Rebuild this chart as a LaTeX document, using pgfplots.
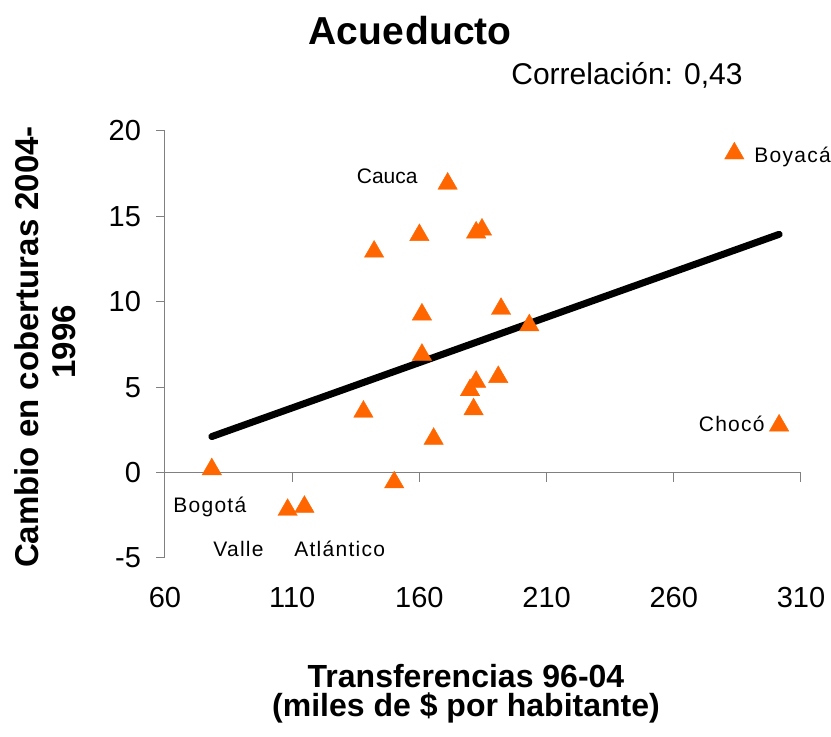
\documentclass[border=0pt]{standalone}
\usepackage{pgfplots}
\pgfplotsset{compat=1.18}
\usepackage{fontspec}
\setmainfont{Liberation Sans}
\newfontfamily\lsfont[LetterSpace=6]{Liberation Sans}
\definecolor{mkorange}{HTML}{FF6600}
\definecolor{axgray}{HTML}{808080}
\begin{document}
\begin{tikzpicture}
\useasboundingbox (-82.5pt,-89.5pt) rectangle (333pt,279pt);
\begin{axis}[
  scale only axis, width=318pt, height=213.5pt,
  xmin=60, xmax=310, ymin=-5, ymax=20,
  separate axis lines,
  axis x line*=bottom, axis y line*=left,
  x axis line style={draw=none},
  y axis line style={axgray, line width=0.5pt, -},
  xtick={60,110,160,210,260,310},
  ytick={-5,0,5,10,15,20},
  xtick style={draw=none},
  ytick style={axgray, line width=0.5pt},
  tick align=outside, major tick length=4.5pt,
  /pgf/number format/assume math mode=true,
  ticklabel style={font=\fontsize{14.5}{17}\selectfont, text=black},
  xticklabel style={yshift=-6.5pt},
  yticklabel style={xshift=-4pt},
  clip=false,
]
\draw[axgray, line width=0.5pt] (axis cs:60,0) -- (axis cs:310,0);
\draw[axgray, line width=0.5pt] (axis cs:60,0) -- ++(0pt,-4.5pt);
\draw[axgray, line width=0.5pt] (axis cs:110,0) -- ++(0pt,-4.5pt);
\draw[axgray, line width=0.5pt] (axis cs:160,0) -- ++(0pt,-4.5pt);
\draw[axgray, line width=0.5pt] (axis cs:210,0) -- ++(0pt,-4.5pt);
\draw[axgray, line width=0.5pt] (axis cs:260,0) -- ++(0pt,-4.5pt);
\draw[axgray, line width=0.5pt] (axis cs:310,0) -- ++(0pt,-4.5pt);
\addplot[only marks, mark=triangle*, mark size=5.6pt,
  mark options={fill=mkorange, draw=mkorange, line width=0.2pt, yshift=-1.4pt}]
  table {
x y
78.4 0.36
108.2 -2.02
114.8 -1.84
138.0 3.73
142.2 13.10
150.1 -0.41
160.0 14.07
161.0 9.42
161.0 7.06
165.6 2.14
171.1 17.08
179.9 4.99
181.3 3.87
182.3 5.48
182.3 14.22
184.6 14.39
191.0 5.76
192.1 9.75
203.2 8.79
283.8 18.85
301.4 2.92
};
\addplot[black, line width=3.5pt, line cap=round] coordinates {(78.4,2.11) (301.4,13.95)};
\end{axis}
% titles and labels
\node[anchor=base, font=\fontsize{19.5}{22}\selectfont\bfseries] at (122.5pt,256.5pt) {Acue\kern0.8pt ducto};
\node[anchor=base, font=\fontsize{15}{18}\selectfont] at (231pt,236.5pt) {Correlación: 0,43};
\node[anchor=base, font=\fontsize{16}{19}\selectfont\bfseries] at (150.5pt,-65pt) {Transferencias 96-04};
\node[anchor=base, font=\fontsize{16}{19}\selectfont\bfseries] at (150.5pt,-79.5pt) {(miles de \$ por habitante)};
\node[anchor=base, rotate=90, font=\fontsize{16.5}{19}\selectfont\bfseries] at (-63pt,105.5pt) {Cambio en coberturas 2004-};
\node[anchor=base, rotate=90, font=\fontsize{16.5}{19}\selectfont\bfseries] at (-44.5pt,108pt) {1996};
% point labels
\node[anchor=base east, inner sep=0pt, font=\fontsize{10.5}{12}\selectfont] at (126.5pt,187pt) {Cauca};
\node[anchor=base west, inner sep=0pt, font=\fontsize{10.5}{12}\selectfont\lsfont] at (294.5pt,197.5pt) {Boyacá};
\node[anchor=base east, inner sep=0pt, font=\fontsize{10.5}{12}\selectfont\lsfont] at (300pt,63pt) {Chocó};
\node[anchor=base west, inner sep=0pt, font=\fontsize{10.5}{12}\selectfont\lsfont] at (4pt,22.5pt) {Bogotá};
\node[anchor=base west, inner sep=0pt, font=\fontsize{10.5}{12}\selectfont\lsfont] at (24pt,0.5pt) {Valle};
\node[anchor=base west, inner sep=0pt, font=\fontsize{10.5}{12}\selectfont\lsfont] at (64.5pt,0.5pt) {Atlántico};
\end{tikzpicture}
\end{document}
